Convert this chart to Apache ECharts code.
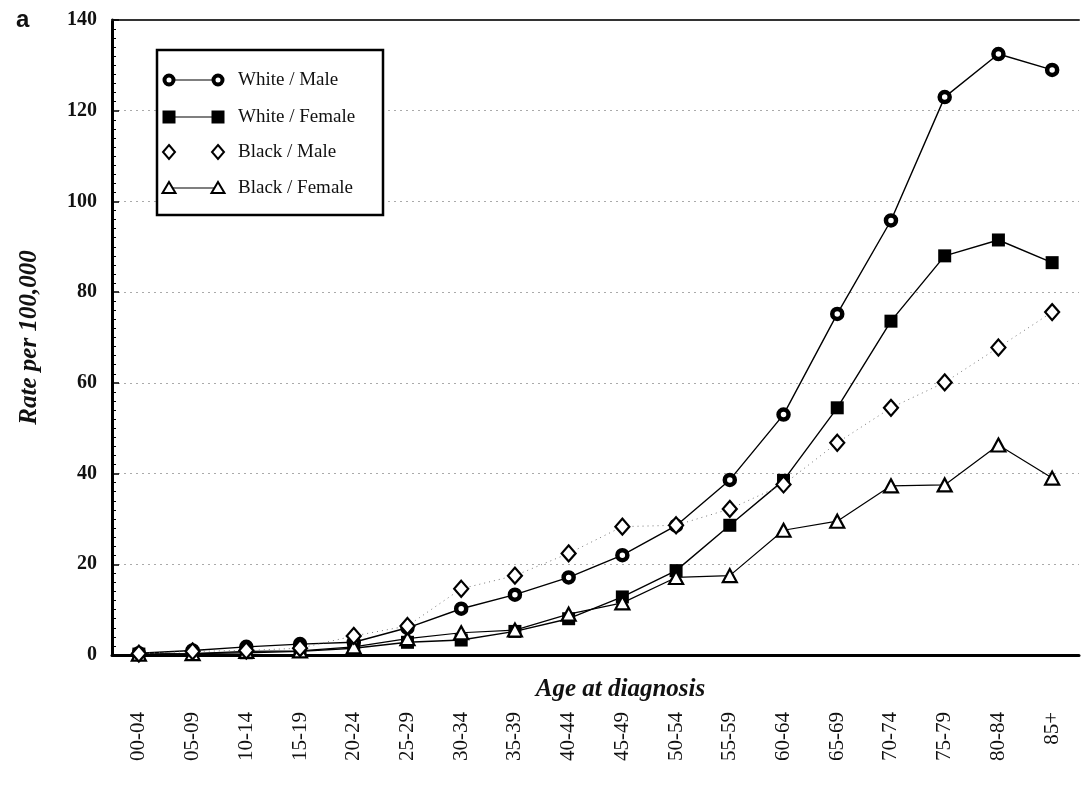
<!DOCTYPE html>
<html><head><meta charset="utf-8">
<script src="https://cdn.jsdelivr.net/npm/echarts@6/dist/echarts.min.js"></script>
<style>html,body{margin:0;padding:0;background:#fff}#c{width:1081px;height:785px}</style>
</head><body><div id="c"></div>
<script>
const categories = ['00-04','05-09','10-14','15-19','20-24','25-29','30-34','35-39','40-44','45-49','50-54','55-59','60-64','65-69','70-74','75-79','80-84','85+'];
const whiteMale   = [0.4, 1.0, 1.8, 2.4, 2.8, 6.0, 10.2, 13.3, 17.1, 22.0, 28.5, 38.6, 53.0, 75.2, 95.8, 123.0, 132.5, 129.0];
const whiteFemale = [0.2, 0.3, 0.5, 0.8, 1.5, 2.8, 3.3, 5.2, 8.0, 12.8, 18.6, 28.6, 38.5, 54.5, 73.6, 88.0, 91.5, 86.5];
const blackMale   = [0.3, 0.8, 1.0, 1.5, 4.2, 6.4, 14.6, 17.5, 22.4, 28.3, 28.6, 32.2, 37.6, 46.8, 54.5, 60.1, 67.8, 75.6];
const blackFemale = [0.2, 0.3, 0.8, 0.9, 1.8, 3.6, 4.9, 5.5, 9.0, 11.5, 17.1, 17.5, 27.5, 29.5, 37.3, 37.5, 46.3, 39.0];
const seriesNames = ['White / Male','White / Female','Black / Male','Black / Female'];
const yTicks = [0, 20, 40, 60, 80, 100, 120, 140];

const SERIF = '"Liberation Serif", "DejaVu Serif", serif';
const chart = echarts.init(document.getElementById('c'), null, {renderer: 'canvas'});

const triPath = 'path://M0,-10 L9,6 L-9,6 Z';

// legend graphic
const legendX = 157, legendY = 50, rowYs = [80, 117, 152, 188];
const legendEls = [{type:'rect', shape:{x:legendX, y:legendY, width:226, height:165}, style:{fill:'#fff', stroke:'#000', lineWidth:2.5}, z:10}];
function marker(kind, cx, cy) {
  if (kind === 0) return {type:'circle', shape:{cx, cy, r:4.5}, style:{fill:'#fff', stroke:'#000', lineWidth:4}, z:12};
  if (kind === 1) return {type:'rect', shape:{x:cx-6.5, y:cy-6.5, width:13, height:13}, style:{fill:'#000'}, z:12};
  if (kind === 2) return {type:'polygon', shape:{points:[[cx,cy-7],[cx+6,cy],[cx,cy+7],[cx-6,cy]]}, style:{fill:'#fff', stroke:'#000', lineWidth:2}, z:12};
  return {type:'polygon', shape:{points:[[cx,cy-6],[cx+6.5,cy+5],[cx-6.5,cy+5]]}, style:{fill:'#fff', stroke:'#000', lineWidth:2}, z:12};
}
seriesNames.forEach((n, i) => {
  const y = rowYs[i];
  if (i !== 2) legendEls.push({type:'line', shape:{x1:169, y1:y, x2:218, y2:y}, style:{stroke:'#000', lineWidth:1.2}, z:11});
  legendEls.push(marker(i, 169, y));
  legendEls.push(marker(i, 218, y));
  legendEls.push({type:'text', x:238, y:y, style:{text:n, font:'19px ' + SERIF, fill:'#111', verticalAlign:'middle'}, z:12});
});

const option = {
  backgroundColor: '#fff',
  animation: false,
  grid: {left: 112, right: 2, top: 20, bottom: 130, containLabel: false},
  xAxis: [{
    type: 'category', data: categories, boundaryGap: true,
    axisLine: {lineStyle: {color: '#000', width: 3}},
    axisTick: {alignWithLabel: true, length: 6, lineStyle: {color: '#000', width: 1.5}},
    axisLabel: {rotate: 90, margin: 57, color: '#111', fontFamily: SERIF, fontSize: 21, interval: 0},
    name: 'Age at diagnosis', nameLocation: 'middle', nameGap: 22, nameMoveOverlap: false,
    nameTextStyle: {fontFamily: SERIF, fontSize: 25, fontWeight: 'bold', fontStyle: 'italic', color: '#111', padding: [0, 0, 0, 50]},
    splitLine: {show: false}
  }, {
    type: 'category', data: categories, position: 'top',
    axisLine: {lineStyle: {color: '#333', width: 2}},
    axisTick: {show: false}, axisLabel: {show: false}
  }],
  yAxis: {
    type: 'value', min: 0, max: 140, interval: 20,
    axisLine: {show: true, lineStyle: {color: '#000', width: 3}},
    axisTick: {show: true, inside: true, length: 7, lineStyle: {color: '#000', width: 1.5}},
    minorTick: {show: true, splitNumber: 10, length: 4, lineStyle: {color: '#000', width: 1}},
    axisLabel: {margin: 15, color: '#111', fontFamily: SERIF, fontSize: 20, fontWeight: 'bold',
      formatter: v => yTicks.includes(v) ? String(v) : ''},
    splitLine: {show: true, lineStyle: {color: '#aaa', type: [2, 4], width: 1}},
    name: 'Rate per 100,000', nameLocation: 'middle', nameGap: 70, nameRotate: 90, nameMoveOverlap: false,
    nameTextStyle: {fontFamily: SERIF, fontSize: 25, fontWeight: 'bold', fontStyle: 'italic', color: '#111'}
  },
  series: [
    {name: seriesNames[0], type: 'line', data: whiteMale, symbol: 'circle', symbolSize: 10,
     itemStyle: {color: '#fff', borderColor: '#000', borderWidth: 4.5}, lineStyle: {color: '#000', width: 1.4}, z: 4},
    {name: seriesNames[1], type: 'line', data: whiteFemale, symbol: 'rect', symbolSize: 13,
     itemStyle: {color: '#000', borderColor: '#000', borderWidth: 0}, lineStyle: {color: '#000', width: 1.4}, z: 3},
    {name: seriesNames[2], type: 'line', data: blackMale, symbol: 'diamond', symbolSize: [14, 16],
     itemStyle: {color: '#fff', borderColor: '#000', borderWidth: 2.2}, lineStyle: {color: '#777', width: 1, type: [1, 4]}, z: 5},
    {name: seriesNames[3], type: 'line', data: blackFemale, symbol: triPath, symbolSize: [14, 13],
     itemStyle: {color: '#fff', borderColor: '#000', borderWidth: 2.2}, lineStyle: {color: '#000', width: 1.2}, z: 4}
  ],
  graphic: [
    {type: 'text', left: 16, top: 8, style: {text: 'a', font: 'bold 24px "Liberation Sans", Arial, sans-serif', fill: '#111'}},
    {type: 'group', children: legendEls}
  ]
};
chart.setOption(option);
</script>
</body></html>
